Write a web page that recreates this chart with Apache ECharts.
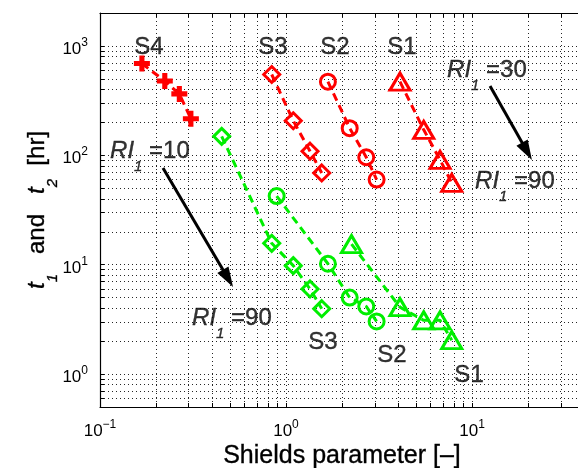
<!DOCTYPE html>
<html><head><meta charset="utf-8">
<script src="https://cdn.jsdelivr.net/npm/echarts@6/dist/echarts.min.js"></script>
<style>html,body{margin:0;padding:0;background:#fff}#c{width:578px;height:468px}</style>
</head><body><div id="c"></div>
<script>
// ---- data (natural units) ----
const s4RedX = [0.168, 0.223, 0.267, 0.308];
const s4RedY = [690, 478, 364, 216];
const s3RedX = [0.838, 1.094, 1.346, 1.556];
const s3RedY = [548, 207, 109, 69];
const s2RedX = [1.68, 2.2, 2.7, 3.07];
const s2RedY = [471, 177, 96, 60];
const s1RedX = [4.1, 5.5, 6.73, 7.78];
const s1RedY = [471, 171, 91, 56];
const s3GreenX = [0.451, 0.838, 1.094, 1.346, 1.556];
const s3GreenY = [149, 15.7, 9.8, 6.0, 3.96];
const s2GreenX = [0.891, 1.68, 2.2, 2.7, 3.07];
const s2GreenY = [42.4, 10.2, 5.0, 4.15, 3.03];
const s1GreenX = [2.25, 4.1, 5.5, 6.73, 7.78];
const s1GreenY = [15.4, 4.09, 3.10, 3.10, 2.04];
const xTickLabels = [0.1, 1, 10];
const yTickLabels = [1, 10, 100, 1000];
const xRange = [0.1, 40];
const yRange = [0.5, 2000];
// annotations (text, anchor in data units)
const topLabels = [['S4', 0.1834, 977], ['S3', 0.851, 977], ['S2', 1.834, 977], ['S1', 4.2, 977]];
const bottomLabels = [['S3', 1.58, 1.965], ['S2', 3.715, 1.495], ['S1', 9.64, 0.981]];
const riLabels = [['10', 0.1132, 108.3], ['30', 7.34, 602], ['90', 10.38, 57.6], ['90', 0.3125, 3.25]];
const arrows = [[[0.2181, 76.6], [0.4875, 7.5]], [[12.5, 430], [19.75, 108.8]]];

// ---- helpers ----
const FONT = '"Liberation Sans", Arial, Helvetica, sans-serif';
const RED = '#ff0000', GREEN = '#00ee00';
const lg = Math.log10;
const pts = (xs, ys) => xs.map((x, i) => [lg(x), lg(ys[i])]);
function gridValues(lo, hi) {
  const out = [];
  for (let e = -2; e <= 4; e++) for (let k = 1; k <= 9; k++) {
    const v = k * Math.pow(10, e);
    if (v >= lo * 0.9999 && v <= hi * 1.0001) out.push(lg(v));
  }
  return out;
}
const tickFmt = v => { const e = Math.round(v); return '{b|10}{s|' + (e < 0 ? '\u2212' + (-e) : e) + '}'; };
const tickRich = {
  b: { fontSize: 17, fontFamily: FONT, color: '#000', padding: [7, 0, 0, 0] },
  s: { fontSize: 12, fontFamily: FONT, color: '#000', padding: [0, 0, 7, 0] }
};
const PLUS = 'path://M3.4,0H6.6V3.4H10V6.6H6.6V10H3.4V6.6H0V3.4H3.4Z';

function lineSeries(name, xs, ys, color, symbol, size) {
  const filled = symbol === PLUS;
  return {
    name, type: 'line', data: pts(xs, ys), symbol, symbolSize: size,
    lineStyle: { color, width: 3, type: [8, 5] },
    itemStyle: filled ? { color } : { color: 'rgba(0,0,0,0)', borderColor: color, borderWidth: 3 },
    emphasis: { disabled: true }, z: 5
  };
}
const TB = { color: '#000', textBorderColor: '#000', textBorderWidth: 0.35 };
const mainRich = {
  it: Object.assign({ fontSize: 24, fontStyle: 'italic', fontFamily: FONT }, TB),
  sub: Object.assign({ fontSize: 15, fontStyle: 'italic', fontFamily: FONT, padding: [31, 0, 0, 0] }, TB),
  n: Object.assign({ fontSize: 24, fontFamily: FONT }, TB)
};
const annData = [];
topLabels.concat(bottomLabels).forEach(([t, x, y]) => annData.push({
  value: [lg(x), lg(y)],
  label: { show: true, color: '#000', position: 'inside', align: 'center', verticalAlign: 'middle', formatter: '{n|' + t + '}', rich: mainRich }
}));
riLabels.forEach(([t, x, y]) => annData.push({
  value: [lg(x), lg(y)],
  label: { show: true, color: '#000', position: 'right', distance: 0, formatter: '{it|RI}{sub|1}{n| =' + t + '}', rich: mainRich }
}));

const xGrid = gridValues(xRange[0], xRange[1]);
const yGrid = gridValues(yRange[0], yRange[1]);
const splitStyle = { show: true, lineStyle: { color: '#000', width: 1, type: [1, 3], opacity: 0.85 } };

const chart = echarts.init(document.getElementById('c'), null, { renderer: 'canvas' });
chart.setOption({
  animation: false,
  backgroundColor: '#fff',
  grid: { left: 100, right: -6, top: 13, bottom: 61, containLabel: false, outerBoundsMode: 'none' },
  xAxis: [{
    type: 'value', min: lg(xRange[0]), max: lg(xRange[1]),
    name: 'Shields parameter [\u2013]', nameLocation: 'middle', nameGap: 37, nameMoveOverlap: false,
    nameTextStyle: Object.assign({ fontSize: 25, fontFamily: FONT }, TB),
    axisLine: { show: true, onZero: false, lineStyle: { color: '#000', width: 1.2 } },
    axisTick: { show: true, inside: true, length: 4, customValues: xGrid, lineStyle: { color: '#000' } },
    axisLabel: { show: true, color: '#000', margin: 9, customValues: xTickLabels.map(lg), formatter: tickFmt, rich: tickRich },
    splitLine: splitStyle
  }, {
    type: 'value', position: 'top', min: lg(xRange[0]), max: lg(xRange[1]),
    axisLine: { show: true, onZero: false, lineStyle: { color: '#000', width: 1.2 } },
    axisTick: { show: true, inside: true, length: 4, customValues: xGrid, lineStyle: { color: '#000' } },
    axisLabel: { show: false }, splitLine: { show: false }
  }],
  yAxis: [{
    type: 'value', min: lg(yRange[0]), max: lg(yRange[1]),
    name: '{it|t}{sub|1}{n|   and   }{it|t}{sub|2}{n|  [hr]}', nameLocation: 'middle', nameGap: 40, nameMoveOverlap: false,
    nameTextStyle: { color: '#000', rich: mainRich },
    axisLine: { show: true, onZero: false, lineStyle: { color: '#000', width: 1.2 } },
    axisTick: { show: true, inside: true, length: 4, customValues: yGrid, lineStyle: { color: '#000' } },
    axisLabel: { show: true, color: '#000', margin: 12, customValues: yTickLabels.map(lg), formatter: tickFmt, rich: tickRich },
    splitLine: splitStyle
  }],
  series: [
    lineSeries('S4 t2', s4RedX, s4RedY, RED, PLUS, 16),
    lineSeries('S3 t2', s3RedX, s3RedY, RED, 'diamond', 16),
    lineSeries('S2 t2', s2RedX, s2RedY, RED, 'circle', 15),
    lineSeries('S1 t2', s1RedX, s1RedY, RED, 'triangle', [20, 17]),
    lineSeries('S3 t1', s3GreenX, s3GreenY, GREEN, 'diamond', 16),
    lineSeries('S2 t1', s2GreenX, s2GreenY, GREEN, 'circle', 15),
    lineSeries('S1 t1', s1GreenX, s1GreenY, GREEN, 'triangle', [20, 17]),
    {
      name: 'annotations', type: 'scatter', symbolSize: 0.1, data: annData, z: 10,
      itemStyle: { color: 'rgba(0,0,0,0)' }, emphasis: { disabled: true }, silent: true,
      markLine: {
        silent: true, animation: false, symbol: ['none', 'triangle'], symbolSize: 16,
        label: { show: false }, emphasis: { disabled: true },
        lineStyle: { color: '#000', width: 3, type: 'solid' },
        data: arrows.map(([a, b]) => [
          { coord: [lg(a[0]), lg(a[1])] },
          { coord: [lg(b[0]), lg(b[1])], symbolSize: [13, 20] }
        ])
      }
    }
  ]
});
</script>
</body></html>
